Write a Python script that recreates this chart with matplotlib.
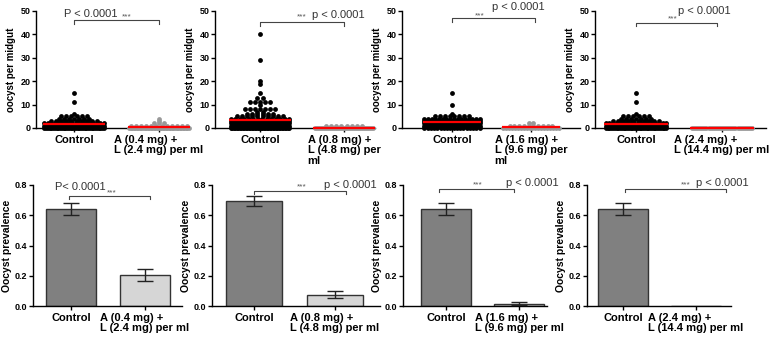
import numpy as np
import matplotlib
matplotlib.use("Agg")
import matplotlib.pyplot as plt

plt.rcParams["font.family"] = ["Liberation Sans", "DejaVu Sans"]

W, H = 783, 338

# ---- data ----
groups_top = ["Control",
              ["A (0.4 mg) +\nL (2.4 mg) per ml",
               "A (0.8 mg) +\nL (4.8 mg) per\nml",
               "A (1.6 mg) +\nL (9.6 mg) per\nml",
               "A (2.4 mg) +\nL (14.4 mg) per ml"]]
groups_bottom = ["A (0.4 mg) +\nL (2.4 mg) per ml",
                 "A (0.8 mg) +\nL (4.8 mg) per ml",
                 "A (1.6 mg) +\nL (9.6 mg) per ml",
                 "A (2.4 mg) +\nL (14.4 mg) per ml"]

# oocyst counts per midgut: (values, number of mosquitoes)
ctrl_vals = [
    [0, 1, 2, 3, 4, 5, 6, 11, 15],
    [0, 1, 2, 3, 4, 5, 6, 7, 8, 10, 11, 13, 15, 19, 20, 29, 40],
    [0, 1, 2, 3, 4, 5, 6, 10, 15],
    [0, 1, 2, 3, 4, 5, 6, 11, 15],
]
ctrl_counts = [
    [35, 25, 18, 10, 7, 6, 1, 1, 1],
    [40, 25, 22, 18, 14, 10, 6, 2, 7, 1, 5, 2, 1, 1, 1, 1, 1],
    [18, 20, 22, 22, 16, 8, 1, 1, 1],
    [35, 25, 18, 10, 7, 6, 1, 1, 1],
]
trt_vals = [
    [0, 1, 2, 3, 4],
    [0, 1],
    [0, 1, 2],
    [0],
]
trt_counts = [
    [40, 12, 3, 1, 1],
    [30, 8],
    [20, 10, 2],
    [30],
]

# oocyst prevalence (mean, sem)
prev_ctrl = [0.64, 0.695, 0.64, 0.64]
prev_ctrl_err = [0.04, 0.035, 0.04, 0.04]
prev_trt = [0.207, 0.075, 0.015, 0.0]
prev_trt_err = [0.04, 0.025, 0.01, 0.0]

p_top = ["P < 0.0001", "p < 0.0001", "p < 0.0001", "p < 0.0001"]
p_bottom = ["P< 0.0001", "p < 0.0001", "p < 0.0001", "p < 0.0001"]

# ---- layout (pixels): axes left, right, control x, treatment x ----
top_px = [(36, 188, 74, 159), (215, 375, 260, 344),
          (402, 580, 452, 531), (595, 766, 636, 722)]
bot_px = [(33, 182, 71, 145), (212, 380, 254, 335),
          (403, 547, 446, 519), (587, 731, 623, 696)]

# annotation placement: bracket y, bracket x0/x1, stars (x,y), p text (x,y)
top_ann = [
    (46.0, 0.0, 1.0, (0.62, 47.3), (0.2, 48.6)),
    (45.3, 0.0, 1.0, (0.5, 47.6), (0.93, 48.3)),
    (47.0, 0.0, 1.05, (0.35, 47.9), (0.84, 51.6)),
    (44.9, 0.0, 0.94, (0.43, 46.6), (0.8, 50.0)),
]
bot_ann = [
    (0.727, -0.03, 1.07, (0.55, 0.745), (0.12, 0.787)),
    (0.76, 0.0, 1.14, (0.59, 0.787), (1.19, 0.8)),
    (0.774, -0.1, 0.93, (0.44, 0.798), (1.18, 0.812)),
    (0.774, 0.03, 1.41, (0.86, 0.804), (1.36, 0.812)),
]


def make_ax(l, r, t, b):
    return fig.add_axes([l / W, 1 - b / H, (r - l) / W, (b - t) / H])


def style_ax(ax):
    for s in ["top", "right"]:
        ax.spines[s].set_visible(False)
    for s in ["left", "bottom"]:
        ax.spines[s].set_linewidth(1.0)
    ax.tick_params(axis="y", length=3, width=1, pad=1, labelsize=6.5)
    ax.tick_params(axis="x", length=3, width=1, pad=2, labelsize=8)
    for lab in ax.get_yticklabels():
        lab.set_fontweight("bold")


def swarm(ax, x0, vals, counts, color):
    xs, ys = [], []
    for v, n in zip(vals, counts):
        hw = min(0.35, 0.03 * (n - 1))
        off = np.linspace(-hw, hw, n) if n > 1 else np.array([0.0])
        xs.extend(x0 + off)
        ys.extend([v] * n)
    ax.scatter(xs, ys, s=12, color=color, linewidths=0, zorder=3, clip_on=False)
    mean = np.sum(np.array(vals) * np.array(counts)) / np.sum(counts)
    ax.plot([x0 - 0.37, x0 + 0.37], [mean, mean], color="red", lw=1.6,
            zorder=4, solid_capstyle="butt", clip_on=False)


def bracket(ax, y, x0, x1, dy):
    ax.plot([x0, x0, x1, x1], [y - dy, y, y, y - dy], color="#444444",
            lw=0.8, clip_on=False)


fig = plt.figure(figsize=(W / 100, H / 100), dpi=100)

# top row: oocyst counts
for i in range(4):
    l, r, c, t_ = top_px[i]
    k = t_ - c
    ax = make_ax(l, r, 11, 128)
    swarm(ax, 0, ctrl_vals[i], ctrl_counts[i], "black")
    swarm(ax, 1, trt_vals[i], trt_counts[i], "#999999")
    ax.set_xlim((l - c) / k, (r - c) / k)
    ax.set_ylim(0, 50)
    ax.set_yticks([0, 10, 20, 30, 40, 50])
    ax.set_xticks([0, 1])
    ax.set_xticklabels([groups_top[0], groups_top[1][i]],
                       fontweight="bold", ma="left", linespacing=1.05)
    ax.set_ylabel("oocyst per midgut", fontsize=7, fontweight="bold",
                  labelpad=3)
    style_ax(ax)
    by, bx0, bx1, st, pt = top_ann[i]
    bracket(ax, by, bx0, bx1, 1.5)
    ax.text(st[0], st[1], "***", fontsize=6, color="#555555",
            ha="center", va="center")
    ax.text(pt[0], pt[1], p_top[i], fontsize=8, color="#333333",
            ha="center", va="center")

# bottom row: oocyst prevalence
for i in range(4):
    l, r, c, t_ = bot_px[i]
    k = t_ - c
    ax = make_ax(l, r, 185, 306)
    ax.bar([0, 1], [prev_ctrl[i], prev_trt[i]], width=0.68,
           color=["#808080", "#d6d6d6"], edgecolor="#333333", linewidth=1,
           zorder=2)
    ax.errorbar([0], [prev_ctrl[i]], yerr=[prev_ctrl_err[i]], fmt="none",
                ecolor="#222222", elinewidth=1, capsize=6, capthick=1, zorder=3)
    if prev_trt_err[i] > 0:
        ax.errorbar([1], [prev_trt[i]], yerr=[prev_trt_err[i]], fmt="none",
                    ecolor="#222222", elinewidth=1, capsize=6, capthick=1,
                    zorder=3)
    ax.set_xlim((l - c) / k, (r - c) / k)
    ax.set_ylim(0, 0.8)
    ax.set_yticks([0.0, 0.2, 0.4, 0.6, 0.8])
    ax.set_yticklabels(["0.0", "0.2", "0.4", "0.6", "0.8"])
    ax.set_xticks([0, 1])
    ax.set_xticklabels(["Control", groups_bottom[i]], fontweight="bold",
                       ma="left", linespacing=1.05)
    ax.set_ylabel("Oocyst prevalence", fontsize=7.5, fontweight="bold",
                  labelpad=2)
    style_ax(ax)
    by, bx0, bx1, st, pt = bot_ann[i]
    bracket(ax, by, bx0, bx1, 0.022)
    ax.text(st[0], st[1], "***", fontsize=6, color="#555555",
            ha="center", va="center")
    ax.text(pt[0], pt[1], p_bottom[i], fontsize=8, color="#333333",
            ha="center", va="center")

fig.savefig("out.png", dpi=100)
